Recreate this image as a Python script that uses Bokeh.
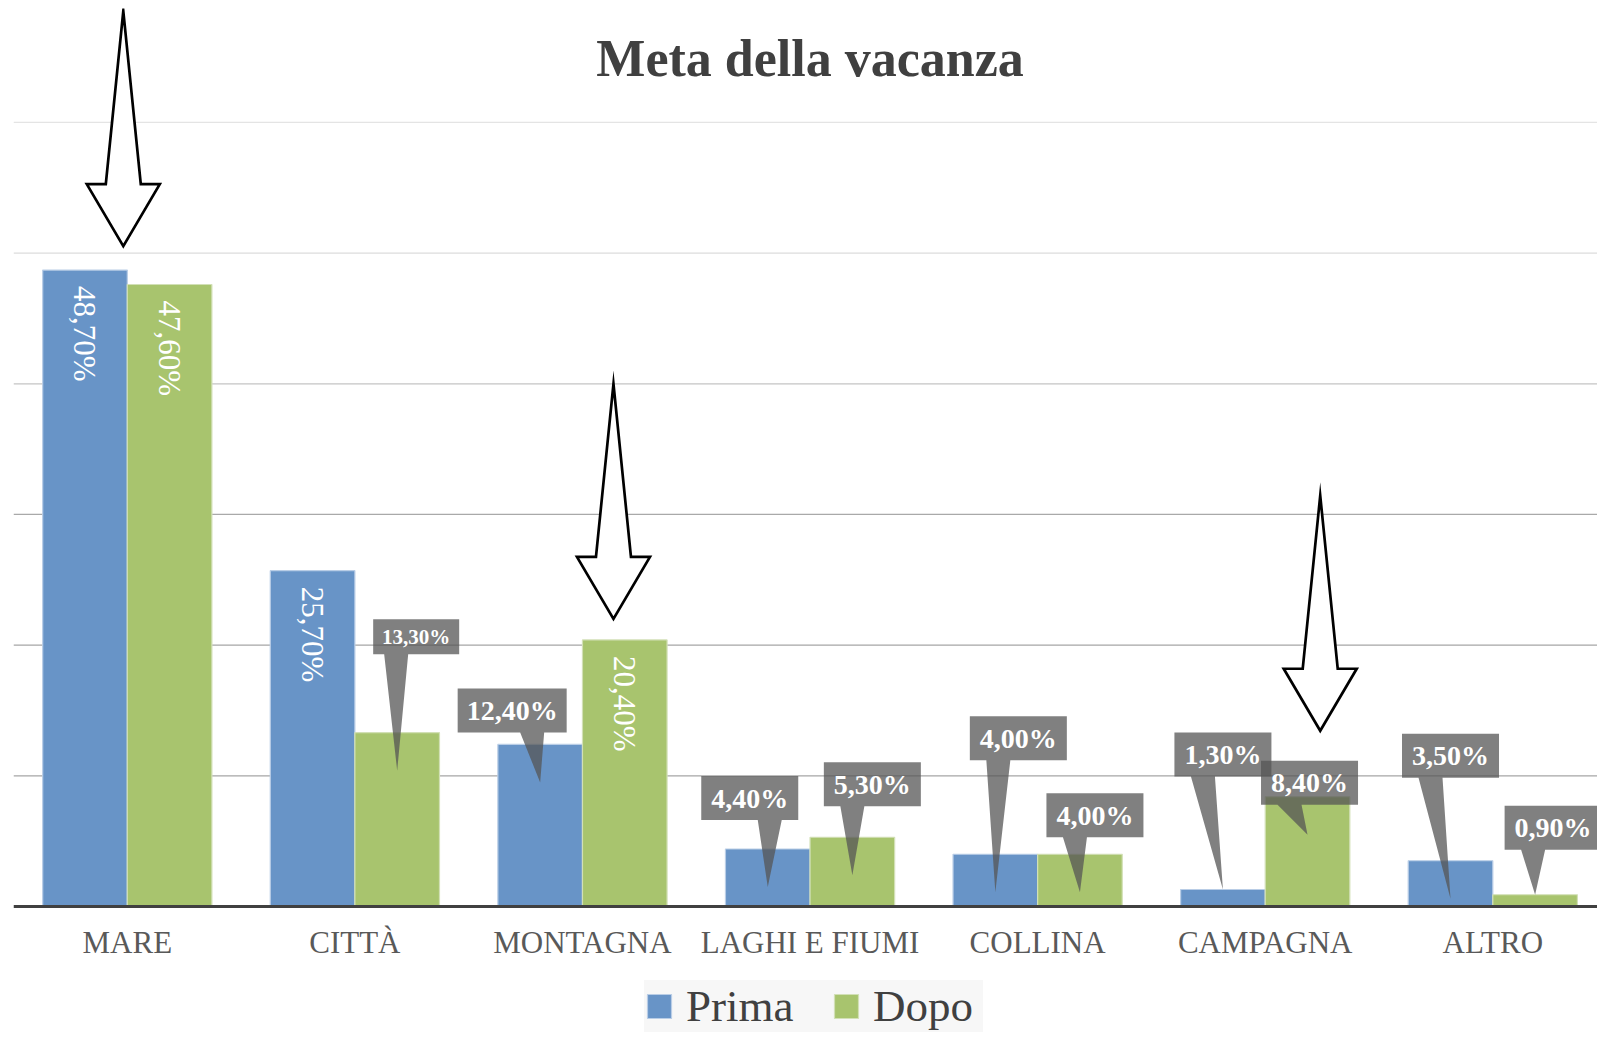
import math
from bokeh.plotting import figure
from bokeh.models import Range1d, FixedTicker, Span, Label, Legend, LegendItem, ColumnDataSource
from bokeh.core.properties import value
from bokeh.embed import file_html
from bokeh.resources import INLINE

# ---------------- data ----------------
categories = ["MARE", "CITTÀ", "MONTAGNA", "LAGHI E FIUMI", "COLLINA", "CAMPAGNA", "ALTRO"]
prima = [48.7, 25.7, 12.4, 4.4, 4.0, 1.3, 3.5]
dopo = [47.6, 13.3, 20.4, 5.3, 4.0, 8.4, 0.9]
series_names = ["Prima", "Dopo"]
title_text = "Meta della vacanza"
grid_values = [10, 20, 30, 40, 50, 60]
highlighted = ["MARE", "MONTAGNA", "CAMPAGNA"]

# ---------------- styles / layout ----------------
FONT = "Liberation Serif"
BLUE = "#6894c7"
GREEN = "#a8c46e"
GRID_COLORS = ["#a6a6a6", "#a6a6a6", "#a9a9a9", "#c4c4c4", "#dcdcdc", "#e4e4e4"]
PLOT_H = 898          # pixels from frame top to the baseline
BOTTOM = 136          # pixels below the baseline (axis labels + legend)
FRAME_W, FRAME_H = 1584, PLOT_H + BOTTOM
X_END = 6.96
Y_END = 68.72
PX_X = FRAME_W / X_END
PX_Y = PLOT_H / Y_END
Y_START = -BOTTOM / PX_Y
BAR_W = 84.6 / PX_X
INSIDE_MIN = 15

# callout placement (pixel offsets of box centre from bar-top centre: dx, up)
callout_offsets = {
    ("CITTÀ", "Dopo"): (19, 96),
    ("MONTAGNA", "Prima"): (-28, 34),
    ("LAGHI E FIUMI", "Prima"): (-18, 51),
    ("LAGHI E FIUMI", "Dopo"): (20, 53),
    ("COLLINA", "Prima"): (23, 116),
    ("COLLINA", "Dopo"): (15, 39),
    ("CAMPAGNA", "Prima"): (0, 135),
    ("CAMPAGNA", "Dopo"): (2, 14),
    ("ALTRO", "Prima"): (0, 105),
    ("ALTRO", "Dopo"): (18, 67),
}
small_callouts = [("CITTÀ", "Dopo")]
arrow_dx = {"MARE": -4, "MONTAGNA": 31, "CAMPAGNA": 55}
arrow_gap = {"MARE": 24, "MONTAGNA": 21, "CAMPAGNA": 66}


def fmt(v):
    return ("%.2f" % v).replace(".", ",") + "%"


n = len(categories)
centers = [i + 0.5 for i in range(n)]
x_prima = [c - BAR_W / 2 for c in centers]
x_dopo = [c + BAR_W / 2 for c in centers]

p = figure(
    frame_width=FRAME_W, frame_height=FRAME_H,
    x_range=Range1d(0, X_END), y_range=Range1d(Y_START, Y_END),
    output_backend="svg", toolbar_location=None, y_axis_location=None,
    min_border_left=13, min_border_right=0, min_border_top=8, min_border_bottom=0,
)
p.outline_line_color = None
p.xgrid.grid_line_color = None
p.ygrid.grid_line_color = None
p.background_fill_color = "white"
p.border_fill_color = "white"

for gv, gc in zip(grid_values, GRID_COLORS):
    p.add_layout(Span(location=gv, dimension="width", line_color=gc, line_width=1.3, level="underlay"))

src_p = ColumnDataSource(dict(x=x_prima, top=prima))
src_d = ColumnDataSource(dict(x=x_dopo, top=dopo))
r1 = p.vbar(x="x", top="top", width=BAR_W, bottom=0, source=src_p,
            fill_color=BLUE, line_color="#b9cde6", line_width=1.2)
r2 = p.vbar(x="x", top="top", width=BAR_W, bottom=0, source=src_d,
            fill_color=GREEN, line_color="#d2e0b6", line_width=1.2)

# x axis, drawn at value 0 (the baseline)
ax = p.xaxis[0]
ax.fixed_location = 0
ax.ticker = FixedTicker(ticks=centers)
ax.major_label_overrides = {c: cat for c, cat in zip(centers, categories)}
ax.major_label_text_font = FONT
ax.major_label_text_font_size = "31px"
ax.major_label_text_color = "#595959"
ax.major_label_standoff = 18
ax.major_tick_line_color = None
ax.major_tick_out = 0
ax.major_tick_in = 0
ax.minor_tick_line_color = None
ax.axis_line_color = "#404040"
ax.axis_line_width = 3

# labels
in_x, in_y, in_t = [], [], []
poly_xs, poly_ys = [], []
cx_l, cy_l, ct_l, cs_l = [], [], [], []
for ci, cat in enumerate(categories):
    for name, vals, xs in (("Prima", prima, x_prima), ("Dopo", dopo, x_dopo)):
        v = vals[ci]
        bx = xs[ci]
        label = fmt(v)
        if v >= INSIDE_MIN:
            in_x.append(bx)
            in_y.append(v - 16 / PX_Y)
            in_t.append(label)
            continue
        dx, up = callout_offsets[(cat, name)]
        small = (cat, name) in small_callouts
        w = 86 if small else (109 if len(label) > 5 else 97)
        h = 35 if small else 44
        left, right = dx - w / 2, dx + w / 2
        bottom, top = up - h / 2, up + h / 2
        side = 1 if dx < 0 else -1
        b1, b2 = dx + side * 8, dx + side * 32
        bl, br = min(b1, b2), max(b1, b2)
        tip_up = -38 if v * PX_Y > 45 else 0
        pts = [(left, top), (right, top), (right, bottom), (br, bottom),
               (0, tip_up), (bl, bottom), (left, bottom)]
        poly_xs.append([bx + px / PX_X for px, py in pts])
        poly_ys.append([v + py / PX_Y for px, py in pts])
        cx_l.append(bx + dx / PX_X)
        cy_l.append(v + up / PX_Y)
        ct_l.append(label)
        cs_l.append("21px" if small else "28px")

p.patches(xs=poly_xs, ys=poly_ys, fill_color="#565656", fill_alpha=0.75, line_color=None)
p.text(x=cx_l, y=cy_l, text=ct_l, text_font=value(FONT), text_font_size=cs_l,
       text_font_style="bold", text_color="white", text_align="center", text_baseline="middle")
p.text(x=in_x, y=in_y, text=in_t, angle=-math.pi / 2, text_font=value(FONT),
       text_font_size="31px", text_color="white", text_align="left", text_baseline="middle")

# arrows
ARROW_H, HEAD_H, WING, SHAFT = 235, 62, 36.5, 17.5
shape = [(0, ARROW_H), (SHAFT, HEAD_H), (WING, HEAD_H), (0, 0), (-WING, HEAD_H), (-SHAFT, HEAD_H)]
ax_xs, ax_ys = [], []
for cat in highlighted:
    ci = categories.index(cat)
    tx = centers[ci] + arrow_dx[cat] / PX_X
    ty = max(prima[ci], dopo[ci]) + arrow_gap[cat] / PX_Y
    ax_xs.append([tx + px / PX_X for px, py in shape])
    ax_ys.append([ty + py / PX_Y for px, py in shape])
p.patches(xs=ax_xs, ys=ax_ys, fill_color="white", line_color="black", line_width=2.7, line_join="miter")

# title
p.add_layout(Label(x=n / 2, y=Y_END - 50 / PX_Y, text=title_text, text_font=FONT,
                   text_font_size="52px", text_font_style="bold", text_color="#404040",
                   text_align="center", text_baseline="middle"))

legend = Legend(items=[LegendItem(label=series_names[0], renderers=[r1]),
                       LegendItem(label=series_names[1], renderers=[r2])],
                orientation="horizontal", location=(631, 10),
                label_text_font=FONT, label_text_font_size="45px", label_text_color="#404040",
                glyph_width=30, glyph_height=30, label_standoff=12, spacing=35,
                label_width=110, padding=16, margin=0,
                background_fill_color="#f7f7f7", background_fill_alpha=1,
                border_line_color=None)
p.add_layout(legend, "center")

open("out.html", "w").write(file_html(p, INLINE))
